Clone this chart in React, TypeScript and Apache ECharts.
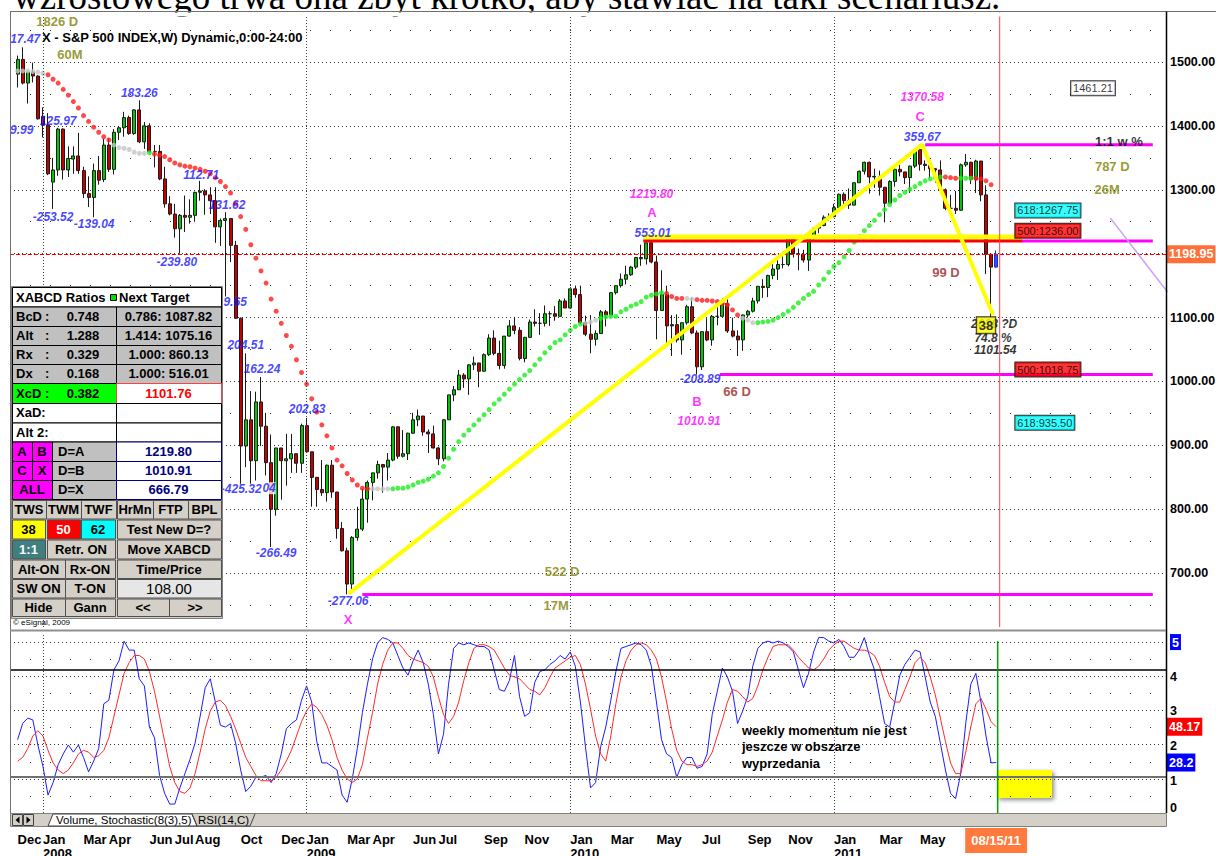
import React, { useEffect, useRef } from 'react';
import * as echarts from 'echarts';

const SANS = '"Liberation Sans", Arial, Helvetica, sans-serif';
const SERIF = '"Liberation Serif", "Times New Roman", serif';

// ---------------- DATA ----------------
const headline = 'wzrostowego trwa ona zbyt krótko, aby stawiać na taki scenariusz.';
const chartTitle = 'X - S&P 500 INDEX,W) Dynamic,0:00-24:00';
const firstSlot = Date.UTC(2007, 10, 26); // one empty slot before the first candle (week of 2007-12-03)
const slotCount = 228;
const monthNames = ['Jan', 'Feb', 'Mar', 'Apr', 'May', 'Jun', 'Jul', 'Aug', 'Sep', 'Oct', 'Nov', 'Dec'];
const shownMonths = ['2007-12', '2008-01', '2008-03', '2008-04', '2008-06', '2008-07', '2008-08', '2008-10', '2008-12',
  '2009-01', '2009-03', '2009-04', '2009-06', '2009-07', '2009-09', '2009-11', '2010-01', '2010-03', '2010-05',
  '2010-07', '2010-09', '2010-11', '2011-01', '2011-03', '2011-05'];
const yearStartWeeks = [5, 57, 109, 161];
const lastWeek = 193;
const cursorWeek = 193.7;
const lastPrice = 1198.95;
const lastK = 28.2;
const lastD = 48.17;

const priceTicks = [700, 800, 900, 1000, 1100, 1200, 1300, 1400, 1500];
const priceMinor = [650, 750, 850, 950, 1050, 1150, 1250, 1350, 1450, 1550];
const stochTicks = [19.1, 38.2, 57.3, 76.4, 95.5];
const stochLabelVals = [3, 18, 37.5, 57, 76, 95.5];
const stochLabelTexts = ['0', '1', '2', '3', '4', '5'];
const stochMinor = [9.5, 28.6, 47.7, 66.8, 85.9];
const stochUpper = 80;
const stochLower = 20;

// weekly S&P 500 candles [open, close, low, high], week of 2007-12-03 .. 2011-08-15
const ohlc: number[][] = [
  [1481, 1504, 1460, 1510], [1504, 1467, 1465, 1523], [1467, 1484, 1435, 1485], [1484, 1478, 1468, 1499], [1478, 1411, 1410, 1479],
  [1415, 1401, 1382, 1429], [1401, 1325, 1323, 1420], [1312, 1331, 1270, 1350], [1331, 1395, 1322, 1397], [1395, 1331, 1316, 1396],
  [1331, 1349, 1320, 1368], [1348, 1353, 1325, 1368], [1353, 1330, 1325, 1389], [1330, 1294, 1287, 1336], [1294, 1288, 1273, 1321],
  [1288, 1330, 1257, 1341], [1330, 1315, 1308, 1353], [1316, 1370, 1312, 1380], [1370, 1332, 1328, 1381], [1332, 1390, 1324, 1395],
  [1390, 1397, 1378, 1400], [1397, 1413, 1383, 1422], [1413, 1388, 1386, 1416], [1388, 1425, 1386, 1426], [1425, 1375, 1373, 1440],
  [1375, 1400, 1364, 1406], [1400, 1360, 1358, 1404], [1360, 1360, 1335, 1370], [1360, 1317, 1315, 1370], [1317, 1278, 1272, 1336],
  [1278, 1262, 1260, 1290], [1262, 1239, 1225, 1278], [1239, 1260, 1200, 1262], [1260, 1257, 1234, 1291], [1257, 1260, 1247, 1285],
  [1260, 1296, 1250, 1297], [1296, 1298, 1283, 1314], [1298, 1292, 1261, 1301], [1292, 1283, 1262, 1304], [1283, 1242, 1217, 1304],
  [1242, 1252, 1212, 1255], [1252, 1255, 1133, 1265], [1255, 1213, 1187, 1255], [1213, 1099, 1098, 1220], [1099, 899, 840, 1100],
  [899, 940, 866, 1044], [940, 876, 840, 985], [876, 968, 845, 984], [968, 930, 899, 1007], [930, 873, 853, 951],
  [873, 800, 741, 917], [800, 896, 790, 896], [896, 876, 815, 896], [876, 879, 837, 918], [879, 887, 857, 918],
  [887, 872, 857, 887], [872, 931, 857, 934], [931, 890, 888, 943], [890, 850, 804, 890], [850, 831, 804, 850],
  [831, 826, 821, 877], [826, 869, 812, 870], [869, 827, 818, 877], [827, 770, 754, 827], [770, 735, 734, 780],
  [735, 683, 667, 740], [683, 756, 672, 758], [756, 769, 751, 804], [769, 816, 766, 832], [816, 842, 779, 845],
  [842, 857, 814, 857], [857, 870, 848, 876], [870, 866, 826, 871], [866, 877, 845, 888], [877, 929, 875, 930],
  [929, 883, 879, 930], [883, 887, 881, 924], [887, 919, 877, 920], [919, 940, 918, 951], [940, 946, 930, 956],
  [946, 921, 915, 946], [921, 918, 888, 925], [918, 896, 895, 931], [896, 879, 869, 898], [879, 940, 875, 941],
  [940, 979, 940, 979], [979, 987, 969, 993], [987, 1010, 987, 1018], [1010, 1004, 990, 1013], [1004, 1026, 979, 1027],
  [1026, 1029, 1018, 1039], [1029, 1016, 991, 1029], [1016, 1042, 1016, 1044], [1042, 1068, 1040, 1074], [1068, 1044, 1041, 1080],
  [1044, 1025, 1019, 1064], [1025, 1071, 1020, 1071], [1071, 1087, 1070, 1096], [1087, 1080, 1074, 1101], [1080, 1036, 1033, 1085],
  [1036, 1069, 1030, 1070], [1069, 1093, 1069, 1097], [1093, 1091, 1086, 1113], [1091, 1091, 1073, 1107], [1091, 1106, 1086, 1119],
  [1106, 1106, 1087, 1110], [1106, 1102, 1095, 1118], [1102, 1126, 1102, 1129], [1126, 1115, 1115, 1130], [1115, 1145, 1115, 1145],
  [1145, 1136, 1131, 1150], [1136, 1092, 1090, 1150], [1092, 1074, 1071, 1103], [1074, 1066, 1044, 1104], [1066, 1075, 1056, 1080],
  [1075, 1109, 1075, 1112], [1109, 1104, 1086, 1112], [1104, 1139, 1104, 1140], [1139, 1150, 1136, 1151], [1150, 1160, 1147, 1169],
  [1160, 1167, 1152, 1181], [1167, 1179, 1165, 1181], [1179, 1194, 1176, 1194], [1194, 1192, 1181, 1214], [1192, 1217, 1183, 1217],
  [1217, 1187, 1185, 1220], [1187, 1111, 1066, 1197], [1111, 1136, 1111, 1174], [1136, 1087, 1056, 1150], [1087, 1089, 1040, 1104],
  [1089, 1065, 1061, 1105], [1065, 1092, 1042, 1092], [1092, 1117, 1089, 1120], [1117, 1076, 1074, 1131], [1076, 1023, 1011, 1080],
  [1023, 1078, 1018, 1078], [1078, 1065, 1063, 1099], [1065, 1102, 1056, 1104], [1102, 1102, 1088, 1120], [1102, 1122, 1102, 1130],
  [1122, 1079, 1076, 1129], [1079, 1071, 1069, 1100], [1071, 1065, 1040, 1080], [1065, 1104, 1048, 1105], [1104, 1110, 1100, 1112],
  [1110, 1126, 1108, 1131], [1126, 1149, 1122, 1149], [1149, 1147, 1131, 1160], [1147, 1166, 1132, 1167], [1166, 1176, 1160, 1184],
  [1176, 1183, 1159, 1190], [1183, 1183, 1177, 1196], [1183, 1225, 1180, 1227], [1225, 1200, 1194, 1227], [1200, 1199, 1174, 1208],
  [1199, 1190, 1186, 1206], [1190, 1225, 1173, 1225], [1225, 1240, 1220, 1241], [1240, 1244, 1232, 1247], [1244, 1257, 1243, 1260],
  [1257, 1258, 1252, 1263], [1258, 1272, 1257, 1278], [1272, 1293, 1266, 1294], [1293, 1283, 1271, 1296], [1283, 1276, 1270, 1302],
  [1276, 1311, 1276, 1311], [1311, 1329, 1311, 1330], [1329, 1343, 1324, 1344], [1343, 1320, 1294, 1344], [1320, 1321, 1303, 1333],
  [1321, 1304, 1291, 1330], [1304, 1279, 1249, 1304], [1279, 1313, 1279, 1315], [1313, 1332, 1305, 1334], [1332, 1328, 1321, 1339],
  [1328, 1319, 1309, 1328], [1319, 1337, 1295, 1338], [1337, 1363, 1334, 1364], [1363, 1340, 1330, 1371], [1340, 1338, 1330, 1346],
  [1338, 1333, 1318, 1340], [1333, 1331, 1311, 1334], [1331, 1300, 1299, 1346], [1300, 1271, 1268, 1302], [1271, 1271, 1258, 1292],
  [1271, 1268, 1262, 1298], [1268, 1339, 1267, 1341], [1339, 1343, 1336, 1356], [1343, 1316, 1309, 1344], [1316, 1345, 1295, 1347],
  [1345, 1292, 1282, 1345], [1292, 1199, 1168, 1307], [1199, 1179, 1101.54, 1200], [1179, 1199, 1178, 1205],
];

// trailing dotted line (price per week; null = none)
const trailValues: (number | null)[] = [
  1486, 1486, 1486, 1485, 1484, 1482, 1480, 1473, 1467, 1457, 1448, 1438, 1428, 1416, 1407, 1398, 1390, 1383, 1378, 1370,
  1366, 1365, 1363, 1359, 1357, 1357, 1358, 1356, 1354, 1352, 1347, 1342, 1339, 1337, 1336, 1334, 1332, 1329, 1325, 1319,
  1313, 1305, 1295, 1278, 1258, 1238, 1214, 1193, 1173, 1154, 1129, 1110, 1091, 1072, 1055, 1034, 1014, 996, 973, 952,
  932, 915, 896, 877, 868, 856, 846, 838, 833, 832, 832, 832, 832, 832, 832, 833, 833, 835, 838, 842,
  844, 847, 852, 857, 867, 880, 894, 906, 916, 924, 932, 940, 948, 956, 965, 972, 980, 988, 996, 1003,
  1010, 1017, 1026, 1035, 1045, 1053, 1061, 1065, 1073, 1080, 1086, 1090, 1091, 1093, 1096, 1099, 1101, 1102, 1102, 1109,
  1113, 1118, 1121, 1125, 1132, 1135, 1137, 1139, 1138, 1133, 1130, 1130, 1130, 1129, 1128, 1127, 1127, 1126, 1125, 1122,
  1120, 1112, 1104, 1099, 1096, 1092, 1092, 1093, 1094, 1096, 1100, 1105, 1110, 1116, 1123, 1130, 1136, 1141, 1151, 1160,
  1171, 1180, 1186, 1195, 1205, 1218, 1227, 1236, 1244, 1252, 1261, 1269, 1277, 1284, 1291, 1296, 1301, 1305, 1310, 1314,
  1317, 1319, 1320, 1320, 1319, 1318, 1318, 1318, 1318, 1318, 1317, 1314, 1308, null,
];
const trailSegments: [number, number, string][] = [
  [0, 5, 'gray'], [6, 18, 'red'], [19, 25, 'gray'], [26, 26, 'green'], [27, 69, 'red'], [70, 73, 'gray'],
  [74, 111, 'green'], [112, 114, 'gray'], [115, 127, 'green'], [128, 131, 'red'], [132, 133, 'gray'],
  [134, 142, 'red'], [143, 145, 'gray'], [146, 182, 'green'], [183, 185, 'red'], [186, 188, 'green'], [189, 192, 'red'],
];

// Stochastic %K (blue) and %D (red), weekly
const stochK = [
  41, 50, 53, 52, 38, 26, 10, 17, 27, 33, 38, 34, 38, 31, 23, 29, 36, 61, 63, 80,
  85, 96, 91, 91, 75, 71, 48, 42, 21, 11, 5, 5, 14, 22, 30, 39, 54, 70, 75, 62,
  49, 48, 50, 39, 24, 12, 15, 20, 20, 21, 17, 22, 33, 47, 50, 52, 63, 71, 62, 40,
  28, 28, 26, 24, 10, 6, 19, 36, 56, 72, 86, 95, 98, 97, 95, 88, 81, 77, 85, 91,
  84, 72, 55, 33, 44, 72, 92, 95, 94, 95, 94, 93, 93, 91, 80, 69, 68, 74, 88, 65,
  54, 56, 73, 79, 80, 83, 85, 88, 86, 90, 82, 62, 37, 14, 17, 37, 48, 63, 79, 92,
  93, 94, 95, 94, 91, 82, 62, 41, 33, 31, 20, 27, 31, 31, 25, 26, 33, 55, 68, 81,
  76, 68, 50, 57, 65, 82, 92, 95, 96, 95, 96, 95, 93, 90, 80, 70, 78, 90, 98, 98,
  96, 95, 97, 93, 87, 87, 91, 98, 88, 80, 65, 50, 48, 62, 77, 83, 87, 91, 90, 76,
  62, 54, 39, 24, 11, 8, 22, 50, 72, 78, 62, 43, 28, 28.2,
];
const stochD = [
  29, 31, 36, 43, 46, 43, 35, 28, 24, 22, 24, 28, 33, 35, 34, 31, 32, 35, 42, 54,
  66, 78, 84, 88, 88, 86, 79, 68, 54, 40, 26, 17, 12, 11, 14, 22, 34, 47, 57, 62,
  63, 60, 54, 47, 39, 31, 26, 21, 18, 18, 18, 20, 24, 29, 35, 43, 51, 57, 61, 59,
  55, 49, 41, 31, 24, 19, 17, 19, 27, 42, 56, 72, 83, 91, 95, 95, 92, 88, 86, 85,
  84, 82, 76, 65, 55, 50, 54, 62, 74, 84, 92, 94, 94, 93, 91, 86, 81, 77, 76, 75,
  72, 69, 68, 66, 70, 76, 81, 83, 85, 87, 88, 83, 72, 58, 43, 33, 29, 43, 61, 76,
  85, 91, 94, 95, 94, 91, 86, 76, 62, 47, 35, 29, 27, 27, 26, 27, 29, 34, 43, 52,
  62, 69, 68, 65, 62, 64, 71, 80, 87, 93, 94, 94, 94, 91, 87, 84, 81, 80, 82, 86,
  91, 94, 96, 96, 94, 92, 91, 91, 90, 88, 82, 73, 65, 62, 62, 69, 76, 84, 87, 84,
  76, 66, 53, 40, 28, 22, 22, 34, 48, 61, 64, 58, 51, 48.17,
];

// pattern lines [week, price]
const xcdPath = [[65.3, 668], [178.4, 1370.58], [192.4, 1104]];
const levelA = [[198.0, 1219.8], [223.9, 1219.8]];
const levelARed = [[123.4, 1219.8], [198.1, 1219.8]];
const levelAYellow = [[123.4, 1226], [198.1, 1226]];
const levelB = [[138.5, 1010.91], [223.9, 1010.91]];
const levelC = [[179.0, 1370.58], [223.9, 1370.58]];
const levelX = [[68.0, 666.79], [223.9, 666.79]];
const purpleLine = [[215.5, 1256], [226.8, 1140]];

// text tags [week, price, text]
const blueTags: [number, number, string][] = [
  [1.5, 1536, '17.47'], [8.0, 1408, '125.97'], [0.8, 1394, '9.99'], [24.0, 1452, '183.26'], [7.0, 1257, '-253.52'],
  [15.1, 1247, '-139.04'], [36.2, 1323, '112.71'], [41.3, 1276, '131.62'], [31.4, 1187, '-239.80'], [42.9, 1124, '9.65'],
  [45.0, 1057, '204.51'], [48.2, 1020, '162.24'], [57.1, 957, '202.83'], [44.1, 832, '-425.32'], [51.0, 732, '-266.49'],
  [65.2, 657, '-277.06'], [125.3, 1232, '553.01'], [178.4, 1383, '359.67'], [134.6, 1004, '-208.89'],
];
const blueWhiteTags: [number, number, string][] = [[49.6, 833, '04']];
const magentaItalicTags: [number, number, string][] = [[125.0, 1293, '1219.80'], [178.4, 1445, '1370.58'], [134.4, 938, '1010.91']];
const magentaTags: [number, number, string][] = [[125.1, 1264, 'A'], [178.0, 1414, 'C'], [134.0, 968, 'B'], [65.2, 628, 'X']];
const oliveTags: [number, number, string][] = [
  [7.8, 1563, '1826 D'], [10.3, 1512, '60M'], [107.4, 703, '522 D'], [106.2, 650, '17M'], [215.9, 1337, '787 D'], [214.9, 1300, '26M'],
];
const brownTags: [number, number, string][] = [[183.1, 1171, '99 D'], [141.9, 984, '66 D']];
const blackTags: [number, number, string][] = [[217.2, 1376, '1:1 w %']];
const blackItalicTags: [number, number, string][] = [[192.6, 1090, '2038 ?D'], [192.4, 1068, '74.8 %'], [192.8, 1049, '1101.54']];
const whiteBoxes: [number, number, string][] = [[212.1, 1459, '1461.21']];
const cyanBoxes: [number, number, string][] = [[203.2, 1267.75, '618:1267.75'], [202.6, 935.5, '618:935.50']];
const redBoxes: [number, number, string][] = [[203.2, 1236, '500:1236.00'], [203.2, 1018.75, '500:1018.75']];
const yellowBoxes: [number, number, string][] = [[191.0, 1088, '38']];

// XABCD panel texts
const ratioRows = [['BcD', '0.748', '0.786: 1087.82'], ['Alt', '1.288', '1.414: 1075.16'], ['Rx', '0.329', '1.000: 860.13'], ['Dx', '0.168', '1.000: 516.01']];
const xcdRow = ['XcD', '0.382', '1101.76'];
const emptyRows = ['XaD:', 'Alt 2:'];
const targetRows = [['A', 'B', 'D=A', '1219.80'], ['C', 'X', 'D=B', '1010.91'], ['ALL', '', 'D=X', '666.79']];
const momentumNote = ['weekly momentum nie jest', 'jeszcze w obszarze', 'wyprzedania'];

const weeks: string[] = Array.from({ length: slotCount }, (_, i) =>
  new Date(firstSlot + i * 7 * 86400000).toISOString().slice(0, 10));

// ---------------- BUILD ----------------
function buildGraphics() {
  const els: any[] = [];
  const Z = 100;
  const R = (x: number, y: number, w: number, h: number, fill: string, stroke = '#000', lw = 1, z = Z) =>
    els.push({ type: 'rect', z, silent: true, shape: { x: x + 0.5, y: y + 0.5, width: w, height: h }, style: { fill, stroke, lineWidth: lw } });
  const T = (x: number, y: number, text: string, o: any = {}) =>
    els.push({
      type: 'text', z: (o.z ?? Z) + 1, silent: true,
      style: {
        x, y, text, fill: o.color || '#000', align: o.align || 'left', verticalAlign: 'middle',
        font: `${o.italic ? 'italic ' : ''}${o.weight || 'bold'} ${o.size || 13}px ${o.family || SANS}`,
      },
    });
  const L = (x1: number, y1: number, x2: number, y2: number, stroke: string, lw = 1, z = Z) =>
    els.push({ type: 'line', z, silent: true, shape: { x1, y1, x2, y2 }, style: { stroke, lineWidth: lw } });

  // headline (cut at the top)
  T(13, -3.5, headline, { weight: 'normal', size: 37, family: SERIF, z: 98 });
  R(-1, 12, 1218, 4, '#fff', '#fff', 0, 99);
  // frame
  L(10, 11.5, 1216, 11.5, '#707070', 1);
  L(10.5, 11.5, 10.5, 826, '#707070', 1);
  L(1166.5, 11.5, 1166.5, 813, '#000', 1.5);
  L(10, 630.5, 1166, 630.5, '#909090', 2);
  T(42, 37, chartTitle, { size: 13, z: 40 });
  T(13, 622, '© eSignal, 2009', { weight: 'normal', size: 8 });

  // XABCD table
  const LX = 12, MX = 116, RX = 221;
  const rowsY = [287, 306.5, 326, 345, 364, 383, 403, 422.5, 441.5, 461, 480, 499];
  R(11, 286, 211, 332, '#d4d0c8', '#808080');
  R(LX, rowsY[0], RX - LX, rowsY[1] - rowsY[0], '#fff');
  T(16, 297, 'XABCD Ratios');
  R(110, 294, 6, 6, '#00e000', '#000');
  T(119, 297, 'Next Target');
  ratioRows.forEach((r, i) => {
    const y0 = rowsY[i + 1], y1 = rowsY[i + 2], ym = (y0 + y1) / 2;
    R(LX, y0, MX - LX, y1 - y0, '#c0c0c0');
    R(MX, y0, RX - MX, y1 - y0, '#c0c0c0');
    T(16, ym, r[0]); T(45, ym, ':'); T(83, ym, r[1], { align: 'center' }); T(168.5, ym, r[2], { align: 'center' });
  });
  {
    const y0 = rowsY[5], y1 = rowsY[6], ym = (y0 + y1) / 2;
    R(LX, y0, MX - LX, y1 - y0, '#00ff00');
    R(MX, y0, RX - MX, y1 - y0, '#fff', '#ff4040');
    T(16, ym, xcdRow[0]); T(45, ym, ':'); T(83, ym, xcdRow[1], { align: 'center' });
    T(168.5, ym, xcdRow[2], { align: 'center', color: '#ff0000' });
  }
  emptyRows.forEach((t, i) => {
    const y0 = rowsY[6 + i], y1 = rowsY[7 + i];
    R(LX, y0, MX - LX, y1 - y0, '#fff');
    R(MX, y0, RX - MX, y1 - y0, '#fff');
    T(16, (y0 + y1) / 2, t);
  });
  targetRows.forEach((r, i) => {
    const y0 = rowsY[8 + i], y1 = rowsY[9 + i], ym = (y0 + y1) / 2;
    if (r[1]) {
      R(LX, y0, 20, y1 - y0, '#ff00ff'); R(32, y0, 20, y1 - y0, '#ff00ff');
      T(22, ym, r[0], { align: 'center' }); T(42, ym, r[1], { align: 'center' });
    } else {
      R(LX, y0, 40, y1 - y0, '#ff00ff'); T(32, ym, r[0], { align: 'center' });
    }
    R(52, y0, MX - 52, y1 - y0, '#c0c0c0');
    T(58, ym, r[2]);
    R(MX, y0, RX - MX, y1 - y0, '#fff', '#000080');
    T(168.5, ym, r[3], { align: 'center', color: '#000080' });
  });
  // buttons
  const by = [500, 519.5, 539.5, 559.5, 579, 598.5, 617];
  const B = (x0: number, x1: number, r: number, text: string, fill = '#d4d0c8', color = '#000', o: any = {}) => {
    R(x0, by[r], x1 - x0, by[r + 1] - by[r] - 1, fill, '#505050');
    T((x0 + x1) / 2, (by[r] + by[r + 1]) / 2, text, { align: 'center', color, ...o });
  };
  B(12, 46, 0, 'TWS'); B(46, 81, 0, 'TWM'); B(81, 116, 0, 'TWF'); B(117, 153, 0, 'HrMn'); B(153, 188, 0, 'FTP'); B(188, 221, 0, 'BPL');
  B(12, 45, 1, '38', '#ffff00'); B(47, 80, 1, '50', '#ff0000', '#fff'); B(81, 115, 1, '62', '#00ffff'); B(117, 221, 1, 'Test New D=?');
  B(12, 45, 2, '1:1', '#3f7f7f', '#fff'); B(47, 115, 2, 'Retr. ON'); B(117, 221, 2, 'Move XABCD');
  B(12, 65, 3, 'Alt-ON'); B(65, 115, 3, 'Rx-ON'); B(117, 221, 3, 'Time/Price');
  B(12, 65, 4, 'SW ON'); B(65, 115, 4, 'T-ON'); B(117, 221, 4, '108.00', '#e6e6e6', '#000', { weight: 'normal', size: 15 });
  B(12, 65, 5, 'Hide'); B(65, 115, 5, 'Gann'); B(117, 169, 5, '<<'); B(169, 221, 5, '>>');

  // stochastic note + yellow box
  momentumNote.forEach((t, i) => T(742, 730 + i * 16.5, t, { size: 13 }));
  els.push({
    type: 'rect', z: 0, silent: true, shape: { x: 997, y: 770, width: 55, height: 28 },
    style: { fill: '#ffff00', shadowBlur: 4, shadowColor: 'rgba(0,0,0,0.45)', shadowOffsetX: 2, shadowOffsetY: 2 },
  });

  // tab bar
  R(10, 813, 1156, 13, '#d4d0c8', '#808080');
  R(12, 814, 10, 11, '#d4d0c8', '#404040');
  R(23, 814, 10, 11, '#d4d0c8', '#404040');
  els.push({ type: 'polygon', z: Z + 1, silent: true, shape: { points: [[19.5, 816.5], [19.5, 823.5], [15.5, 820]] }, style: { fill: '#000' } });
  els.push({ type: 'polygon', z: Z + 1, silent: true, shape: { points: [[26.5, 816.5], [26.5, 823.5], [30.5, 820]] }, style: { fill: '#000' } });
  els.push({ type: 'polygon', z: Z, silent: true, shape: { points: [[48, 826], [53, 814], [192, 814], [197, 826]] }, style: { fill: '#fff', stroke: '#404040', lineWidth: 1 } });
  els.push({ type: 'polyline', z: Z, silent: true, shape: { points: [[192, 814], [197, 826], [250, 826], [255, 814]] }, style: { stroke: '#404040', lineWidth: 1, fill: null } });
  T(56, 820, 'Volume, Stochastic(8(3),5)', { weight: 'normal', size: 11.5 });
  T(198, 820, 'RSI(14,C)', { weight: 'normal', size: 11.5 });
  return els;
}

function buildOption() {
  const v = (k: number) => k + 1.5;
  const candleData: any[] = [['-', '-', '-', '-']];
  ohlc.forEach((c, k) => {
    if (k === lastWeek) {
      candleData.push({ value: c, itemStyle: { color: '#3050ff', color0: '#3050ff', borderColor: '#1a2fd0', borderColor0: '#1a2fd0' } });
    } else candleData.push(c);
  });

  const seg = (pts: number[][], color: string, width: number, z = 4, xi = 1, yi = 0) => ({
    type: 'line', xAxisIndex: xi, yAxisIndex: yi, silent: true, symbol: 'none', z,
    data: pts.map(([k, p]) => [v(k), p]), lineStyle: { color, width, cap: 'butt' },
  });

  const dots = (state: string, color: string) => {
    const data: number[][] = [];
    trailSegments.filter((s) => s[2] === state).forEach(([a, b]) => {
      for (let k = a; k <= b; k++) { const p = trailValues[k]; if (p != null) data.push([v(k), p]); }
    });
    return { type: 'scatter', xAxisIndex: 1, yAxisIndex: 0, silent: true, symbol: 'circle', symbolSize: 5, z: 3, itemStyle: { color }, data };
  };

  const tags = (list: [number, number, string][], lab: any) => ({
    type: 'scatter', xAxisIndex: 1, yAxisIndex: 0, silent: true, symbol: 'rect', symbolSize: 1, z: 8,
    itemStyle: { color: 'rgba(0,0,0,0)' },
    data: list.map(([k, p, t]) => ({
      value: [v(k), p],
      label: { show: true, position: 'inside', formatter: () => t, fontFamily: SANS, fontWeight: 'bold', fontSize: 12, ...lab },
    })),
  });
  const boxLab = (bg: string) => ({ fontWeight: 'normal', fontSize: 11, color: '#000', backgroundColor: bg, borderColor: '#000', borderWidth: 1, padding: [2, 2, 1, 2] });

  const yearLines = () => yearStartWeeks.map((k) => ({ xAxis: weeks[k + 1], lineStyle: { type: [1, 2], color: '#404040', width: 1 }, label: { show: false } }));

  const labelIdx = new Set<number>();
  weeks.forEach((w, i) => {
    const ym = w.slice(0, 7);
    if (shownMonths.includes(ym) && (i === 0 || weeks[i - 1].slice(0, 7) !== ym)) labelIdx.add(i);
  });

  const NUM = 12.5;
  const axisNum = { fontFamily: SANS, fontWeight: 'bold', fontSize: NUM, color: '#000', margin: 4 };
  const valBox = (bg: string) => ({ fontFamily: SANS, fontWeight: 'bold', fontSize: NUM, color: '#fff', backgroundColor: bg, padding: [3, 2, 2, 2] });
  const gridBase = { left: 10, right: 50, outerBoundsMode: 'none', containLabel: false };

  return {
    animation: false,
    backgroundColor: 'transparent',
    grid: [
      { ...gridBase, top: 12, height: 615 },
      { ...gridBase, top: 634, height: 179 },
      { ...gridBase, top: 813, height: 1 },
    ],
    xAxis: [
      { type: 'category', gridIndex: 0, data: weeks, axisLine: { show: false }, axisTick: { show: false }, axisLabel: { show: false }, splitLine: { show: false } },
      { type: 'value', gridIndex: 0, min: 0, max: slotCount, show: false },
      {
        type: 'category', gridIndex: 1, data: weeks, axisLine: { show: false }, axisTick: { show: false }, splitLine: { show: false },
        axisLabel: {
          interval: (i: number) => labelIdx.has(i),
          formatter: (val: string) => {
            const m = +val.slice(5, 7);
            return m === 1 ? `${monthNames[0]}\n${val.slice(0, 4)}` : monthNames[m - 1];
          },
          hideOverlap: false,
          align: 'left', margin: 20, lineHeight: 13.5, fontSize: 13, fontWeight: 'bold', fontFamily: SANS, color: '#000',
        },
      },
      { type: 'value', gridIndex: 1, min: 0, max: slotCount, show: false },
      {
        type: 'category', gridIndex: 2, data: weeks, axisLine: { show: false }, axisTick: { show: false }, splitLine: { show: false },
        axisLabel: {
          interval: (i: number) => i === lastWeek + 1,
          formatter: (val: string) => `{o|${val.slice(5, 7)}/${val.slice(8, 10)}/${val.slice(2, 4)}}`,
          align: 'center', margin: 14,
          rich: { o: { backgroundColor: '#ff7a3c', color: '#fff', padding: [6, 6, 6, 6], fontSize: 13, fontWeight: 'bold', fontFamily: SANS } },
        },
      },
    ],
    yAxis: [
      {
        type: 'value', gridIndex: 0, position: 'right', min: 615.8, max: 1578.2,
        axisLine: { show: false }, axisTick: { show: false, customValues: priceTicks },
        axisLabel: { ...axisNum, customValues: priceTicks, formatter: (x: number) => x.toFixed(2) },
        splitLine: { show: true, lineStyle: { type: [1, 3], color: '#303030', width: 1 } },
      },
      {
        type: 'value', gridIndex: 0, position: 'left', min: 615.8, max: 1578.2,
        axisLine: { show: false }, axisTick: { show: false, customValues: priceMinor }, axisLabel: { show: false },
        splitLine: { show: true, lineStyle: { type: [1, 19], color: '#303030', width: 1 } },
      },
      {
        type: 'value', gridIndex: 1, position: 'right', min: 0, max: 100,
        axisLine: { show: false }, axisTick: { show: false, customValues: stochTicks },
        axisLabel: {
          ...axisNum, customValues: stochLabelVals,
          formatter: (x: number) => {
            const i = stochLabelVals.indexOf(x);
            const t = stochLabelTexts[i] ?? '';
            return i === stochLabelVals.length - 1 ? `{b|${t}}` : t;
          },
          rich: { b: { backgroundColor: '#0000ff', color: '#fff', fontFamily: SANS, fontWeight: 'bold', fontSize: NUM, padding: [2, 2, 1, 2] } },
        },
        splitLine: { show: true, lineStyle: { type: [1, 3], color: '#303030', width: 1 } },
      },
      {
        type: 'value', gridIndex: 1, position: 'left', min: 0, max: 100,
        axisLine: { show: false }, axisTick: { show: false, customValues: stochMinor }, axisLabel: { show: false },
        splitLine: { show: true, lineStyle: { type: [1, 19], color: '#303030', width: 1 } },
      },
      { type: 'value', gridIndex: 2, show: false },
    ],
    graphic: { elements: buildGraphics() },
    series: [
      {
        type: 'candlestick', xAxisIndex: 0, yAxisIndex: 0, silent: true, barWidth: 3.5, z: 2,
        data: candleData,
        itemStyle: { color: '#00c800', color0: '#c40000', borderColor: '#1a1a1a', borderColor0: '#1a1a1a', borderWidth: 1 },
        markLine: {
          silent: true, symbol: ['none', 'none'], animation: false,
          data: [
            ...yearLines(),
            {
              yAxis: lastPrice, lineStyle: { color: '#ff0000', type: [4, 2], width: 1 },
              label: { show: true, position: 'end', distance: 1, formatter: lastPrice.toFixed(2), ...valBox('#ff7038') },
            },
          ],
        },
      },
      dots('red', '#ff1a1a'),
      dots('green', '#19ee19'),
      dots('gray', '#c4c4c4'),
      seg(levelX, '#ff00ff', 3),
      seg(levelB, '#ff00ff', 3),
      seg(levelC, '#ff00ff', 3),
      seg(levelA, '#ff00ff', 3),
      seg(levelAYellow, '#ffff00', 5, 5),
      seg(levelARed, '#ff0000', 3, 5),
      seg(xcdPath, '#ffff00', 4, 5),
      seg(purpleLine, '#c9a0f5', 1.5, 5),
      seg([[cursorWeek, 615.8], [cursorWeek, 1578.2]], '#ff4040', 1, 6),
      tags(blueTags, { color: '#1414ff', fontStyle: 'italic' }),
      tags(blueWhiteTags, { color: '#1414ff', fontStyle: 'italic', backgroundColor: '#fff' }),
      tags(magentaItalicTags, { color: '#ff00ff', fontStyle: 'italic' }),
      tags(magentaTags, { color: '#ff00ff', fontSize: 13 }),
      tags(oliveTags, { color: '#808000', fontSize: 13 }),
      tags(brownTags, { color: '#962222', fontSize: 13 }),
      tags(blackTags, { color: '#000', fontSize: 13 }),
      tags(blackItalicTags, { color: '#000', fontStyle: 'italic' }),
      tags(whiteBoxes, boxLab('#ffffff')),
      tags(cyanBoxes, boxLab('#00ffff')),
      tags(redBoxes, boxLab('#ff0000')),
      tags(yellowBoxes, { ...boxLab('#ffff00'), fontWeight: 'bold', fontSize: 13 }),
      {
        type: 'line', xAxisIndex: 2, yAxisIndex: 2, silent: true, symbol: 'none', z: 3,
        data: [null, ...stochK], lineStyle: { color: '#1c1cff', width: 1 },
        markLine: {
          silent: true, symbol: ['none', 'none'], animation: false,
          data: [
            ...yearLines(),
            { yAxis: stochUpper, lineStyle: { color: '#000', width: 1.5, type: 'solid' }, label: { show: false } },
            { yAxis: stochLower, lineStyle: { color: '#707070', width: 2, type: 'solid' }, label: { show: false } },
            {
              yAxis: lastD, lineStyle: { color: 'rgba(0,0,0,0)', width: 0 },
              label: { show: true, position: 'end', distance: 1, formatter: lastD.toFixed(2), ...valBox('#ff0000') },
            },
            {
              yAxis: lastK, lineStyle: { color: 'rgba(0,0,0,0)', width: 0 },
              label: { show: true, position: 'end', distance: 1, formatter: String(lastK), ...valBox('#0000ff') },
            },
          ],
        },
      },
      {
        type: 'line', xAxisIndex: 2, yAxisIndex: 2, silent: true, symbol: 'none', z: 3,
        data: [null, ...stochD], lineStyle: { color: '#ff2a2a', width: 1 },
      },
      seg([[cursorWeek - 0.4, 0], [cursorWeek - 0.4, 96]], '#00a000', 1.5, 6, 3, 2),
    ],
  };
}

export default function App() {
  const ref = useRef<HTMLDivElement>(null);
  useEffect(() => {
    const chart = echarts.init(ref.current!, null, { renderer: 'svg' });
    chart.setOption(buildOption() as any);
    return () => chart.dispose();
  }, []);
  return <div ref={ref} style={{ position: 'absolute', left: 0, top: 0, width: 1216, height: 856, background: '#fff' }} />;
}
